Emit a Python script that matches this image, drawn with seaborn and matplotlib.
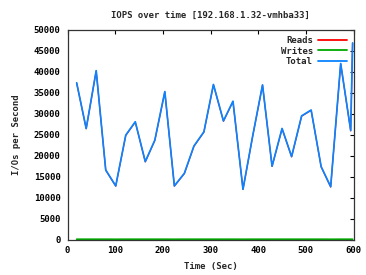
import matplotlib
matplotlib.use("Agg")
import matplotlib.pyplot as plt
import seaborn as sns
import pandas as pd

time_sec = [19, 39, 60, 80, 101, 122, 142, 163, 183, 204, 224, 245, 265, 286, 306,
            327, 347, 368, 388, 409, 429, 450, 470, 491, 511, 532, 552, 573, 594, 598]
total = [37400, 26500, 40300, 16600, 12800, 24900, 28100, 18600, 23700, 35300,
         12800, 15800, 22300, 25700, 37000, 28300, 33000, 12000, 24500, 36900,
         17500, 26500, 19800, 29500, 30900, 17400, 12600, 42000, 26000, 46900]
reads = [37330, 26430, 40230, 16530, 12740, 24830, 28030, 18530, 23630, 35230,
         12740, 15730, 22230, 25630, 36930, 28230, 32930, 11940, 24430, 36830,
         17430, 26430, 19730, 29430, 30830, 17330, 12540, 41930, 25930, 46830]
writes = [70, 70, 70, 70, 60, 70, 70, 70, 70, 70,
          60, 70, 70, 70, 70, 70, 70, 60, 70, 70,
          70, 70, 70, 70, 70, 70, 60, 70, 70, 70]

title = "IOPS over time [192.168.1.32-vmhba33]"
xlabel = "Time (Sec)"
ylabel = "I/Os per Second"
series_names = ["Reads", "Writes", "Total"]
colors = ["#ff0000", "#00a800", "#0a84ff"]

sns.set_style("white")
plt.rcParams['font.family'] = ['DejaVu Sans Mono']
plt.rcParams['font.weight'] = 'bold'

rows = []
for name, vals in zip(series_names, [reads, writes, total]):
    for t, v in zip(time_sec, vals):
        rows.append({"t": t, "v": v, "series": name})
df = pd.DataFrame(rows)

fig = plt.figure(figsize=(3.66, 2.75), dpi=100)
ax = fig.add_axes([0.1847, 0.129, 0.7813, 0.762])

sns.lineplot(data=df, x="t", y="v", hue="series", hue_order=series_names,
             palette=colors, linewidth=1.2, ax=ax, legend=True)
for ln in ax.lines:
    c = tuple(matplotlib.colors.to_rgb(ln.get_color()))
    if c == (1.0, 0.0, 0.0):
        ln.set_linewidth(0.9)
    else:
        ln.set_linewidth(1.25)

ax.set_xlim(0, 600)
ax.set_ylim(0, 50000)
ax.set_xticks(range(0, 601, 100))
ax.set_yticks(range(0, 50001, 5000))
ax.tick_params(direction="in", length=3, width=0.8, top=True, right=True,
               labelsize=6.5, colors="black", pad=5)
for lab in ax.get_xticklabels() + ax.get_yticklabels():
    lab.set_fontweight("bold")
for s in ax.spines.values():
    s.set_color("#333333")
    s.set_linewidth(0.9)

ax.set_title(title, fontsize=6.5, fontweight="bold", pad=9)
ax.set_xlabel(xlabel, fontsize=6.5, fontweight="bold", labelpad=5)
ax.set_ylabel(ylabel, fontsize=6.5, fontweight="bold", labelpad=9)

leg = ax.legend(loc="upper right", frameon=False, markerfirst=False,
                fontsize=6.5, handlelength=3.2, handletextpad=0.6,
                labelspacing=0.15, borderaxespad=0.3,
                prop={"weight": "bold", "size": 6.5, "family": "DejaVu Sans Mono"})
for t in leg.get_texts():
    t.set_ha("right")
for h in leg.get_lines():
    h.set_linewidth(1.3)

fig.savefig("out.png", dpi=100)
